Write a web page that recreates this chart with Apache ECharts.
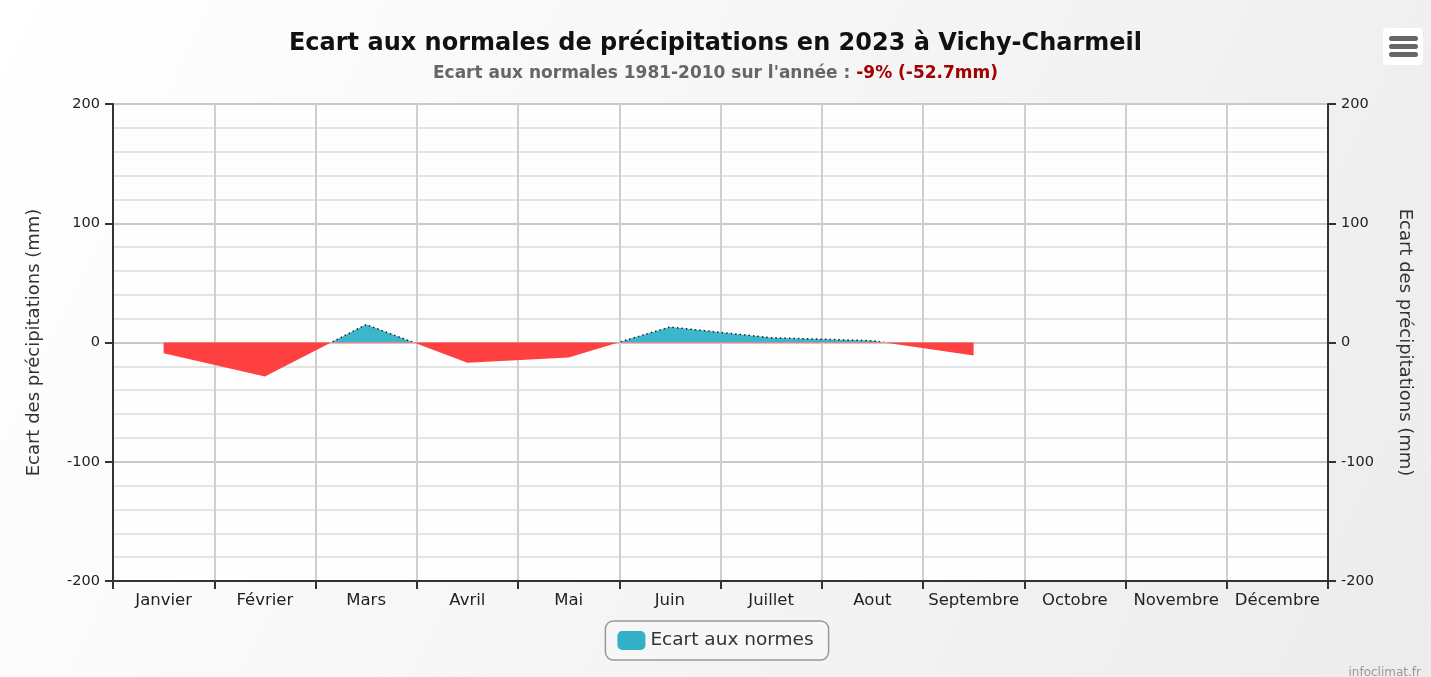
<!DOCTYPE html>
<html>
<head>
<meta charset="utf-8">
<script src="https://cdn.jsdelivr.net/npm/echarts@6/dist/echarts.min.js"></script>
<style>
  html, body { margin: 0; padding: 0; }
  #chart { width: 1431px; height: 677px; }
</style>
</head>
<body>
<div id="chart"></div>
<script>
var mois = ['Janvier', 'Février', 'Mars', 'Avril', 'Mai', 'Juin', 'Juillet', 'Aout', 'Septembre', 'Octobre', 'Novembre', 'Décembre'];
var ecart = [-9, -28.5, 15, -17, -12.5, 13, 4, 1.5, -11, null, null, null];
var yTicks = [-200, -100, 0, 100, 200];

var police = 'DejaVu Sans';
var nomAxe = 'Ecart des précipitations (mm)';

function axeY(pos, rot) {
  return {
    type: 'value',
    position: pos,
    min: yTicks[0],
    max: yTicks[yTicks.length - 1],
    interval: 100,
    name: nomAxe,
    nameLocation: 'middle',
    nameGap: pos == 'left' ? 70 : 68,
    nameRotate: rot,
    nameTextStyle: { fontFamily: police, fontSize: 18, color: '#333' },
    axisLine: { show: true, lineStyle: { color: '#333', width: 2 } },
    axisTick: { show: true, length: 8, lineStyle: { color: '#333', width: 2 } },
    axisLabel: { fontFamily: police, fontSize: 14.5, color: '#222', margin: 13, padding: [6, 0, 0, 0] },
    splitLine: { show: pos == 'left', lineStyle: { color: '#c8c8c8', width: 2 } },
    minorTick: { show: false, splitNumber: 5 },
    minorSplitLine: { show: pos == 'left', lineStyle: { color: '#e4e4e4', width: 2 } }
  };
}

var chart = echarts.init(document.getElementById('chart'));
chart.setOption({
  backgroundColor: {
    type: 'linear', x: 0, y: 0, x2: 1, y2: 1,
    colorStops: [{ offset: 0, color: '#ffffff' }, { offset: 1, color: '#ececec' }]
  },
  animation: false,
  title: {
    text: 'Ecart aux normales de précipitations en 2023 à Vichy-Charmeil',
    subtext: '{g|Ecart aux normales 1981-2010 sur l\'année : }{r|-9% (-52.7mm)}',
    left: 'center',
    top: 27,
    itemGap: 9,
    textStyle: { fontFamily: police, fontSize: 24, fontWeight: 'bold', color: '#111' },
    subtextStyle: {
      rich: {
        g: { fontFamily: police, fontSize: 17, fontWeight: 'bold', color: '#666' },
        r: { fontFamily: police, fontSize: 17, fontWeight: 'bold', color: '#a00000' }
      }
    }
  },
  grid: { left: 113, right: 103, top: 104, bottom: 96, show: true, backgroundColor: '#fefefe', borderWidth: 0 },
  xAxis: {
    type: 'category',
    data: mois,
    boundaryGap: true,
    axisLine: { onZero: false, lineStyle: { color: '#333', width: 2 } },
    axisTick: { show: true, length: 8, lineStyle: { color: '#333', width: 2 } },
    axisLabel: { fontFamily: police, fontSize: 16.5, color: '#222', margin: 11, interval: 0 },
    splitLine: { show: true, lineStyle: { color: '#cfcfcf', width: 2 } }
  },
  yAxis: [axeY('left', 90), axeY('right', -90)],
  visualMap: [
    {
      show: false, type: 'piecewise', seriesIndex: 0, dimension: 1,
      pieces: [{ gt: 0, lte: 1000, color: '#3bb6cc' }, { gte: -1000, lte: 0, color: '#ff4040' }]
    },
    {
      show: false, type: 'piecewise', seriesIndex: 1, dimension: 1,
      pieces: [{ gt: 0, lte: 1000, color: '#222' }, { gte: -1000, lte: 0, color: 'rgba(255,64,64,0)' }]
    }
  ],
  legend: {
    data: [{ name: 'Ecart aux normes', itemStyle: { color: '#33b1c9' } }],
    bottom: 17,
    left: 'center',
    icon: 'roundRect',
    itemWidth: 28,
    itemHeight: 19,
    padding: [10, 15, 10, 12],
    borderColor: '#999',
    borderWidth: 1.5,
    borderRadius: 8,
    backgroundColor: '#f7f7f7',
    textStyle: { fontFamily: police, fontSize: 18.5, color: '#333' }
  },
  series: [
    {
      name: 'Ecart aux normes',
      type: 'line',
      data: ecart,
      showSymbol: false,
      lineStyle: { width: 0 },
      areaStyle: { opacity: 1, origin: 0 },
      z: 2
    },
    {
      name: 'contour',
      type: 'line',
      data: ecart,
      showSymbol: false,
      lineStyle: { width: 1.5, type: [1.5, 3] },
      z: 3
    }
  ],
  graphic: [
    {
      type: 'group', left: 1383, top: 28,
      children: [
        { type: 'rect', shape: { x: 0, y: 0, width: 40, height: 37, r: 4 }, style: { fill: '#fff' } },
        { type: 'rect', shape: { x: 6, y: 8, width: 29, height: 5, r: 2.5 }, style: { fill: '#666' } },
        { type: 'rect', shape: { x: 6, y: 16, width: 29, height: 5, r: 2.5 }, style: { fill: '#666' } },
        { type: 'rect', shape: { x: 6, y: 24, width: 29, height: 5, r: 2.5 }, style: { fill: '#666' } }
      ]
    },
    {
      type: 'text', right: 10, bottom: -2,
      style: { text: 'infoclimat.fr', fontFamily: police, fontSize: 12, fill: '#999' }
    }
  ]
});
</script>
</body>
</html>
